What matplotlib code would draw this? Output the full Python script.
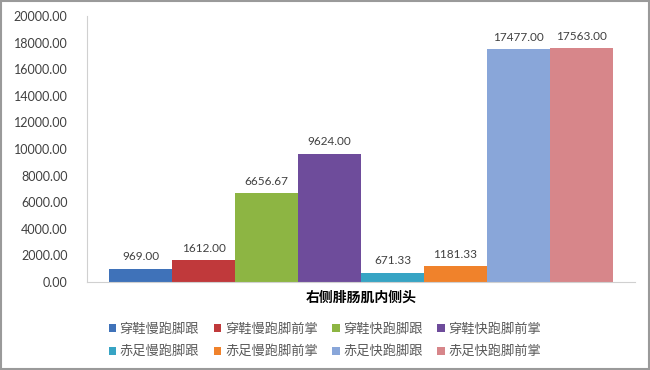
import matplotlib.pyplot as plt
from matplotlib.patches import Rectangle

plt.rcParams['font.family'] = ['Lato', 'Noto Sans CJK SC', 'DejaVu Sans']

categories = ['穿鞋慢跑脚跟', '穿鞋慢跑脚前掌', '穿鞋快跑脚跟', '穿鞋快跑脚前掌',
              '赤足慢跑脚跟', '赤足慢跑脚前掌', '赤足快跑脚跟', '赤足快跑脚前掌']
values = [969.00, 1612.00, 6656.67, 9624.00, 671.33, 1181.33, 17477.00, 17563.00]
colors = ['#3F72B9', '#C0393B', '#8DB543', '#6E4C9B',
          '#37A4C4', '#F0822B', '#89A6D9', '#D7868A']
xlabel = '右侧腓肠肌内侧头'
yticks = list(range(0, 20001, 2000))

fig = plt.figure(figsize=(6.5, 3.7), dpi=100)
fig.patches.append(Rectangle((0.001, 0.003), 0.997, 0.994, transform=fig.transFigure,
                             fill=False, edgecolor='#9a9a9a', linewidth=1.5))
ax = fig.add_axes([0.134, 0.238, 0.843, 0.719])

handles = []
for i, (name, v, c) in enumerate(zip(categories, values, colors)):
    b = ax.bar(i, v, width=1.0, color=c, label=name)
    handles.append(b)
    ax.text(i, v + 500, f'{v:.2f}', ha='center', va='bottom', fontsize=8.5, color='#404040')

ax.set_xlim(-0.85, 7.85)
ax.set_ylim(0, 20000)
ax.set_yticks(yticks)
ax.set_yticklabels([f'{t:.2f}' for t in yticks], fontsize=9, color='#404040')
ax.set_xticks([])
ax.tick_params(axis='y', length=0, pad=14)
for s in ['top', 'right']:
    ax.spines[s].set_visible(False)
ax.spines['left'].set_color('#d0d0d0')
ax.spines['bottom'].set_color('#d0d0d0')
ax.set_xlabel(xlabel, fontsize=10, fontweight='bold', labelpad=6)

order = [0, 4, 1, 5, 2, 6, 3, 7]
fig.legend([handles[i] for i in order], [categories[i] for i in order],
           loc='center', bbox_to_anchor=(0.5, 0.082), ncol=4, frameon=False,
           fontsize=9.5, handlelength=0.55, handleheight=0.55, handletextpad=0.3,
           columnspacing=1.1, labelspacing=0.75, labelcolor='#595959')

fig.savefig('out.png', dpi=100)
